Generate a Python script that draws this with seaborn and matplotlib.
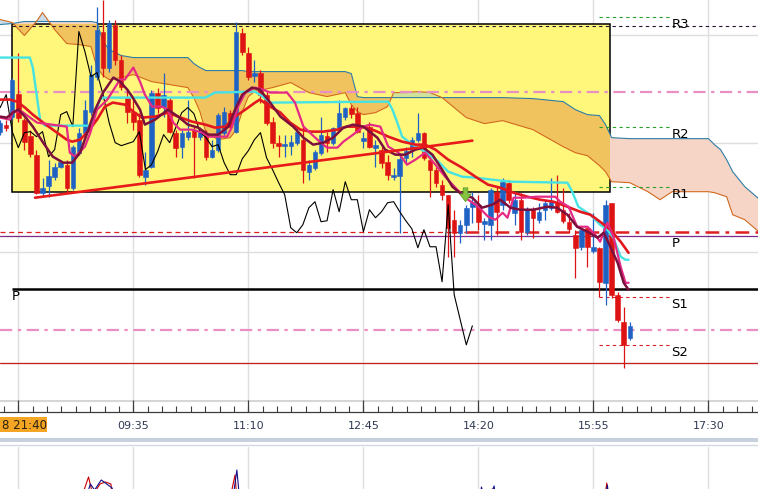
import numpy as np
import pandas as pd
import matplotlib
matplotlib.use("Agg")
import matplotlib.pyplot as plt
from matplotlib.patches import Rectangle
from matplotlib.path import Path
import seaborn as sns

sns.set_theme(style="white")
plt.rcParams['font.family'] = ['DejaVu Sans']

# =============================================================================
# DATA  (x = 5-minute bar index, bar 0 = 08:00; y = price in chart points)
# =============================================================================
first_bar = -3
opens = [268, 275, 283, 306, 280, 264, 245, 207, 214, 223,
         233, 235, 212, 247, 267, 288, 323, 368, 332, 375,
         340, 302, 288, 280, 223, 233, 307, 293, 300, 267,
         253, 263, 270, 263, 267, 243, 250, 267, 287, 268,
         367, 347, 324, 327, 305, 278, 257, 254, 254, 257,
         260, 228, 232, 247, 264, 257, 272, 283, 292, 287,
         259, 273, 252, 250, 238, 223, 224, 242, 250, 260,
         267, 240, 230, 215, 205, 180, 167, 175, 193, 195,
         176, 175, 208, 195, 217, 187, 200, 168, 190, 180,
         190, 192, 198, 190, 178, 165, 153, 172, 149, 152,
         117, 197, 105, 78, 62]
highs = [280, 280, 322, 347, 282, 270, 250, 222, 240, 237,
         240, 240, 255, 272, 300, 335, 393, 400, 380, 380,
         345, 310, 303, 287, 248, 310, 312, 327, 303, 270,
         270, 300, 273, 273, 270, 260, 287, 293, 290, 378,
         372, 353, 340, 330, 308, 283, 265, 265, 265, 273,
         273, 240, 250, 283, 268, 273, 300, 293, 295, 293,
         268, 278, 260, 253, 245, 232, 247, 253, 263, 287,
         268, 243, 233, 220, 205, 190, 180, 195, 208, 205,
         182, 212, 213, 222, 220, 207, 207, 193, 193, 197,
         200, 222, 225, 212, 187, 170, 173, 173, 187, 153,
         200, 197, 108, 93, 78]
lows = [265, 269, 280, 278, 250, 243, 206, 203, 203, 220,
        232, 208, 210, 245, 265, 285, 320, 323, 328, 335,
        310, 277, 270, 223, 215, 232, 287, 283, 267, 243,
        242, 260, 222, 260, 240, 242, 248, 265, 270, 267,
        345, 320, 318, 297, 275, 252, 243, 243, 245, 255,
        217, 220, 230, 245, 248, 255, 270, 280, 282, 267,
        252, 252, 233, 232, 220, 220, 167, 237, 243, 258,
        240, 203, 213, 200, 143, 143, 157, 167, 177, 170,
        160, 160, 165, 190, 197, 175, 160, 165, 162, 177,
        180, 190, 187, 177, 167, 122, 150, 133, 147, 103,
        95, 102, 78, 32, 60]
closes = [277, 272, 320, 282, 258, 246, 207, 212, 224, 233,
          238, 212, 253, 267, 290, 325, 370, 332, 377, 340,
          313, 288, 278, 225, 230, 307, 292, 305, 268, 252,
          267, 268, 263, 268, 243, 250, 285, 288, 273, 368,
          348, 323, 327, 305, 277, 257, 254, 256, 258, 268,
          230, 235, 248, 265, 257, 272, 287, 292, 286, 268,
          262, 253, 255, 237, 225, 225, 241, 249, 260, 267,
          242, 230, 217, 205, 172, 167, 175, 192, 198, 178,
          179, 210, 188, 218, 200, 200, 168, 190, 182, 188,
          197, 198, 188, 179, 171, 152, 170, 153, 153, 118,
          195, 105, 80, 55, 74]
chikou_shift = 26

# Ichimoku cloud (shared x grid)
cloud_x = [-3, -1, 1, 3, 4, 6, 8, 10, 12, 13,
           14, 15, 17, 19, 22, 25, 28, 29, 30, 31,
           33, 35, 36, 37, 38, 39, 42, 45, 48, 51,
           54, 55, 56, 57, 59, 61, 62, 64, 66, 68,
           70, 72, 74, 77, 80, 85, 90, 92, 94, 96,
           97, 98, 101, 104, 106, 108, 111, 114, 115, 116,
           117, 118, 120, 122.5]
span_a = [375, 376, 378, 378, 378, 378, 378, 378, 378, 377,
          358, 350, 344, 342, 342, 342, 342, 336, 332, 329,
          329, 329, 329, 329, 328, 328, 328, 328, 328, 328,
          328, 326, 303, 302, 302, 302, 302, 302, 302, 302,
          302, 302, 302, 302, 302, 301, 298, 290, 285, 284,
          275, 262, 261, 261, 261, 261, 261, 261, 255, 250,
          240, 228, 213, 200]
span_b = [380, 377, 364, 378, 387, 370, 356, 355, 353, 332,
          324, 320, 322, 325, 318, 315, 312, 302, 288, 267,
          260, 262, 270, 288, 303, 308, 312, 317, 307, 303,
          307, 295, 288, 285, 287, 293, 307, 307, 308, 307,
          302, 292, 282, 276, 279, 270, 253, 247, 244, 234,
          228, 218, 217, 208, 200, 208, 208, 208, 207, 205,
          203, 185, 180, 167]

# tenkan (cyan)
tenkan_x = [-3.0, 1.9, 2.4, 3.6, 4.4, 11.9, 13.0, 13.5, 14.0, 30.9,
            32.5, 39.1, 40.4, 41.6, 61.1, 61.8, 62.6, 63.4, 65.1, 67.2,
            69.4, 71.0, 73.3, 75.5, 78.3, 81.3, 90.7, 91.5, 92.5, 94.5,
            96.1, 97.3, 98.3, 99.5, 100.3, 100.8]
tenkan_y = [342, 342, 332, 280, 274, 274, 292, 300, 302, 302,
            307, 308, 303, 297, 298, 290, 277, 263, 255, 248,
            238, 228, 223, 222, 220, 218, 217, 208, 193, 185,
            175, 170, 162, 143, 140, 140]

# slow moving average (red)
ma_slow_x = [-3.0, -1.4, -0.2, 1.1, 2.4, 4.1, 5.7, 8.0, 8.9, 10.2,
             11.5, 13.0, 14.3, 15.6, 17.6, 19.0, 20.4, 22.6, 24.7, 26.4,
             28.7, 30.9, 32.5, 34.2, 35.8, 37.5, 39.1, 39.9, 41.6, 43.3,
             44.9, 46.6, 48.2, 50.4, 52.7, 54.3, 56.0, 57.6, 59.3, 61.1,
             63.4, 65.6, 67.2, 68.9, 71.0, 73.3, 75.5, 77.6, 79.6, 81.8,
             84.1, 86.2, 88.4, 90.7, 92.8, 94.5, 96.1, 97.8, 99.5, 100.8]
ma_slow_y = [300, 300, 298, 292, 285, 277, 270, 260, 258, 260,
             268, 280, 293, 297, 295, 288, 282, 283, 287, 283,
             278, 275, 272, 273, 283, 290, 297, 300, 293, 287,
             277, 270, 268, 268, 270, 273, 273, 272, 268, 263,
             258, 255, 255, 250, 240, 232, 223, 215, 212, 207,
             203, 200, 198, 193, 188, 185, 178, 170, 158, 147]

# fast moving average (maroon)
ma_fast_x = [-3.0, -1.9, -0.9, 0.0, 1.1, 2.4, 4.1, 5.7, 7.4, 8.9,
             10.2, 11.4, 12.7, 14.0, 15.7, 16.8, 18.0, 18.8, 20.1, 20.9,
             22.6, 24.7, 26.4, 28.0, 29.7, 31.4, 33.0, 34.7, 35.8, 37.0,
             38.6, 39.9, 41.6, 43.3, 45.4, 47.1, 48.7, 50.4, 52.0, 53.7,
             55.3, 57.0, 59.3, 60.6, 62.3, 63.9, 65.6, 66.9, 68.4, 70.0,
             71.7, 73.3, 75.0, 76.6, 78.3, 79.6, 81.3, 82.9, 85.1, 87.4,
             89.0, 90.7, 92.3, 94.0, 95.7, 96.7, 97.8, 99.0, 100.0, 100.8]
ma_fast_y = [283, 282, 287, 290, 283, 273, 257, 243, 237, 237,
             247, 267, 290, 307, 322, 318, 310, 303, 290, 275,
             280, 290, 283, 275, 272, 265, 265, 273, 290, 305,
             312, 310, 297, 283, 273, 262, 255, 257, 262, 272,
             275, 273, 262, 250, 245, 245, 250, 252, 245, 230,
             213, 205, 202, 192, 195, 200, 192, 190, 190, 193,
             192, 185, 173, 168, 162, 167, 153, 137, 117, 110]

# kijun-like line (pink)
kijun_x = [-3.0, -1.4, -0.9, 0.6, 2.4, 3.1, 8.0, 8.5, 9.4, 10.2,
           11.0, 11.9, 13.0, 14.7, 16.8, 17.6, 19.0, 20.1, 20.9, 22.1,
           23.7, 24.7, 25.6, 26.7, 28.7, 30.4, 31.4, 34.5, 35.3, 36.3,
           37.5, 39.1, 40.4, 41.6, 44.4, 45.7, 47.1, 49.4, 51.0, 52.7,
           53.7, 55.3, 57.0, 58.1, 59.8, 61.1, 62.8, 64.2, 65.6, 67.2,
           68.9, 70.5, 72.5, 74.3, 76.0, 77.6, 78.8, 80.0, 80.8, 81.8,
           83.4, 85.7, 88.7, 89.5, 90.9, 92.3, 94.0, 95.3, 96.1, 97.3,
           98.3, 99.5, 100.3, 100.8]
kijun_y = [282, 280, 288, 288, 280, 277, 273, 247, 243, 248,
           253, 267, 290, 300, 320, 320, 332, 318, 305, 293,
           293, 290, 277, 270, 270, 267, 263, 263, 273, 293,
           307, 312, 310, 307, 307, 297, 273, 260, 252, 252,
           258, 265, 273, 275, 273, 253, 247, 235, 240, 247,
           235, 223, 210, 200, 193, 183, 180, 187, 182, 202,
           202, 203, 203, 198, 193, 173, 173, 165, 158, 177,
           163, 133, 117, 117]

# hand drawn trend line and box
trend_x = [2.76, 75.0]
trend_y = [202, 259]
box_x = [-1.04, 97.8]
box_y = [208, 376]
signal_x = [73.8]
signal_y = [205]

# pivot levels
r3, r2, r1 = 383, 273, 213
pivot, pivot_dash = 164, 168
s1, s2 = 103, 55
upper_dash, day_pivot = 374, 111
pink_hi, pink_lo, red_low = 308, 70, 37
pivot_labels = ['R3', 'R2', 'R1', 'P', 'S1', 'S2']
pivot_label_y = [r3, r2, r1, pivot, s1, s2]

# time axis
tick_times = ['08:00', '09:35', '11:10', '12:45', '14:20', '15:55', '17:30']
cursor_label = '8 21:40'

# lower indicator panel
low_red_x = [8.0, 11.6, 12.3, 13.5, 14.4, 15.3, 16.2, 33.5, 35.8, 36.6,
             75.0, 77.5, 78.6, 80.0, 96.0, 97.2, 98.2]
low_red_y = [-20, 43, 25, 36, 38, 36, -20, -20, 45, -20, -20, 30, 31, -20, -20, 37, -20]
low_blue_x = [9.0, 11.9, 12.6, 13.7, 14.6, 15.5, 16.8, 34.5, 36.1, 37.2,
              75.5, 76.5, 77.3, 78.6, 79.6, 96.3, 97.3, 98.4]
low_blue_y = [-20, 36, 30, 40, 36, 32, -20, -20, 50, -20, -20, 33, 15, 34, -20, -20, 35, -20]

# =============================================================================
# LAYOUT
# =============================================================================
W, H = 758, 489
px_per_bar = 6.05
x0_px = 18.3
x_left = -x0_px / px_per_bar
x_right = (W - x0_px) / px_per_bar

bars = np.arange(first_bar, first_bar + len(opens))
df = pd.DataFrame({'bar': bars, 'open': opens, 'high': highs,
                   'low': lows, 'close': closes})
tick_idx = [(int(t[:2]) * 60 + int(t[3:]) - 480) / 5 for t in tick_times]

UP, DOWN = '#1f62c4', '#de1414'
GRID = '#dedede'

fig = plt.figure(figsize=((W + 0.5) / 100, (H + 0.5) / 100), dpi=100)
fig.patch.set_facecolor('white')

# ---------------------------------------------------------------- main panel
ax = fig.add_axes([0, 1 - 400 / H, 1, 400 / H])
ax.set_xlim(x_left, x_right)
ax.set_ylim(0, 400)
ax.axis('off')

for t in tick_idx:
    ax.axvline(t, color=GRID, lw=1, zorder=0.5)
for g in [365, 257, 148, 37]:
    ax.axhline(g, color=GRID, lw=1, zorder=0.5)

box = Rectangle((box_x[0], box_y[0]), box_x[1] - box_x[0], box_y[1] - box_y[0],
                facecolor='#fff77c', edgecolor='black', lw=1.1, zorder=1)
ax.add_patch(box)

ca, cb = np.array(span_a), np.array(span_b)
ax.fill_between(cloud_x, ca, cb, where=ca >= cb, interpolate=True,
                color='#f6d5c6', lw=0, zorder=1.5)
inner = ax.fill_between(cloud_x, ca, cb, where=ca >= cb, interpolate=True,
                        color='#f1c35e', lw=0, zorder=1.6)
inner.set_clip_path(box)
ax.fill_between(cloud_x, ca, cb, where=cb > ca, interpolate=True,
                color='#c9dcea', lw=0, zorder=1.5)
inner_b = ax.fill_between(cloud_x, ca, cb, where=cb > ca, interpolate=True,
                          color='#cfe39a', lw=0, zorder=1.6)
inner_b.set_clip_path(box)
sns.lineplot(x=cloud_x, y=span_a, ax=ax, color='#2f7ea6', lw=0.8,
             estimator=None, sort=False, zorder=2)
sns.lineplot(x=cloud_x, y=span_b, ax=ax, color='#d2691e', lw=0.8,
             estimator=None, sort=False, zorder=2)

# pivot lines
thin_dash = (0, (3, 3))
dash_dot = (0, (5.5, 2.5, 1.5, 2.5))
ax.hlines(upper_dash, box_x[0], x_right, color='#2a1030', lw=0.8, linestyles=thin_dash, zorder=3)
ax.axhline(pink_hi, color='#e88fc3', lw=1.6, linestyle=dash_dot, zorder=3)
ax.axhline(pink_lo, color='#e88fc3', lw=1.6, linestyle=dash_dot, zorder=3)
ax.hlines(pivot_dash, x_left, 73.8, color='#e01e1e', lw=0.9, linestyles=(0, (4, 3)), zorder=3)
ax.hlines(pivot_dash, 73.8, x_right, color='#e01e1e', lw=1.8, linestyles=dash_dot, zorder=3)
ax.axhline(pivot, color='#7b2a8c', lw=0.9, zorder=3)
ax.hlines(day_pivot, box_x[0], x_right, color='black', lw=1.8, zorder=3)
ax.axhline(red_low, color='#c81e1e', lw=0.9, zorder=3)
ax.hlines([r3, r2, r1], 96.0, 107.4, color='#2aa02a', lw=0.8, linestyles=thin_dash, zorder=3)
ax.hlines([s1, s2], 96.0, 107.4, color='#d42020', lw=0.8, linestyles=thin_dash, zorder=3)

for lab, lv in zip(pivot_labels, pivot_label_y):
    ax.text(107.9, lv - 1, lab, fontsize=9.5, color='black', va='top', ha='left', zorder=8)
ax.text(box_x[0], day_pivot - 1, 'P', fontsize=9.5, color='black', va='top', ha='left', zorder=8)

# candles
colors = np.where(df['close'] >= df['open'], UP, DOWN)
ax.vlines(df['bar'], df['low'], df['high'], colors=colors, lw=0.9, zorder=4)
body_lo = np.minimum(df['open'], df['close'])
body_h = np.maximum(np.abs(df['close'] - df['open']), 1.5)
ax.bar(df['bar'], body_h, bottom=body_lo, width=0.74, color=colors,
       edgecolor=colors, lw=0.4, zorder=4.5)

# indicators
sns.lineplot(x=df['bar'] - chikou_shift, y=df['close'], ax=ax, color='black',
             lw=0.8, estimator=None, sort=False, zorder=5)
sns.lineplot(x=tenkan_x, y=tenkan_y, ax=ax, color='#45e3e3', lw=1.7,
             estimator=None, sort=False, zorder=5.5)
sns.lineplot(x=ma_slow_x, y=ma_slow_y, ax=ax, color='#e3171f', lw=1.9,
             estimator=None, sort=False, zorder=6)
sns.lineplot(x=kijun_x, y=kijun_y, ax=ax, color='#e52a86', lw=1.6,
             estimator=None, sort=False, zorder=6)
sns.lineplot(x=ma_fast_x, y=ma_fast_y, ax=ax, color='#7c103d', lw=1.8,
             estimator=None, sort=False, zorder=6.2)
sns.lineplot(x=trend_x, y=trend_y, ax=ax, color='#e81a1a', lw=1.9,
             estimator=None, sort=False, zorder=6.5)

arrow = Path([(-0.3, 1), (0.3, 1), (0.3, 0.2), (0.75, 0.2), (0, -0.8),
              (-0.75, 0.2), (-0.3, 0.2), (-0.3, 1)])
ax.plot(signal_x, signal_y, marker=arrow, ms=11, color='#86c43f',
        mec='#5f9c28', mew=0.6, ls='none', zorder=7)

# ---------------------------------------------------------------- time axis
axt = fig.add_axes([0, 1 - 447 / H, 1, 47 / H])
axt.set_xlim(x_left, x_right)
axt.set_ylim(47, 0)
axt.axis('off')
axt.axhline(0.6, color='#d6d6d6', lw=1.5)
axt.axhline(12, color='#3c3c3c', lw=0.9)
minor = np.arange(x_left - x_left % (19 / 8), x_right, 19 / 8)
axt.vlines(minor, 6.5, 12, color='#3c3c3c', lw=0.8)
axt.vlines(tick_idx, 0, 12, color='#3c3c3c', lw=0.9)
cursor_w = 47 / px_per_bar
for t, lab in zip(tick_idx, tick_times):
    if t > x_left + cursor_w:
        axt.text(t, 26, lab, fontsize=8, color='#313a55', ha='center', va='center')
axt.add_patch(Rectangle((x_left, 17), cursor_w, 15, color='#f5a524', lw=0, zorder=3))
axt.text(x_left + 0.3, 25, cursor_label, fontsize=8.5, color='#2b2010',
         ha='left', va='center', zorder=4)
axt.axhspan(38, 42, color='#c6d1dd', lw=0)
axt.axhline(45, color='#d4d9df', lw=1)

# ---------------------------------------------------------------- lower panel
axl = fig.add_axes([0, 1 - 520 / H, 1, 73 / H])
axl.set_xlim(x_left, x_right)
axl.set_ylim(0, 73)
axl.axis('off')
for t in tick_idx:
    axl.axvline(t, color=GRID, lw=1, zorder=0.5)
sns.lineplot(x=low_red_x, y=low_red_y, ax=axl, color='#cc0000', lw=0.8,
             estimator=None, sort=False)
sns.lineplot(x=low_blue_x, y=low_blue_y, ax=axl, color='#10108f', lw=0.8,
             estimator=None, sort=False)
axl.set_ylim(0, 73)

fig.savefig('out.png', dpi=100, facecolor='white')
